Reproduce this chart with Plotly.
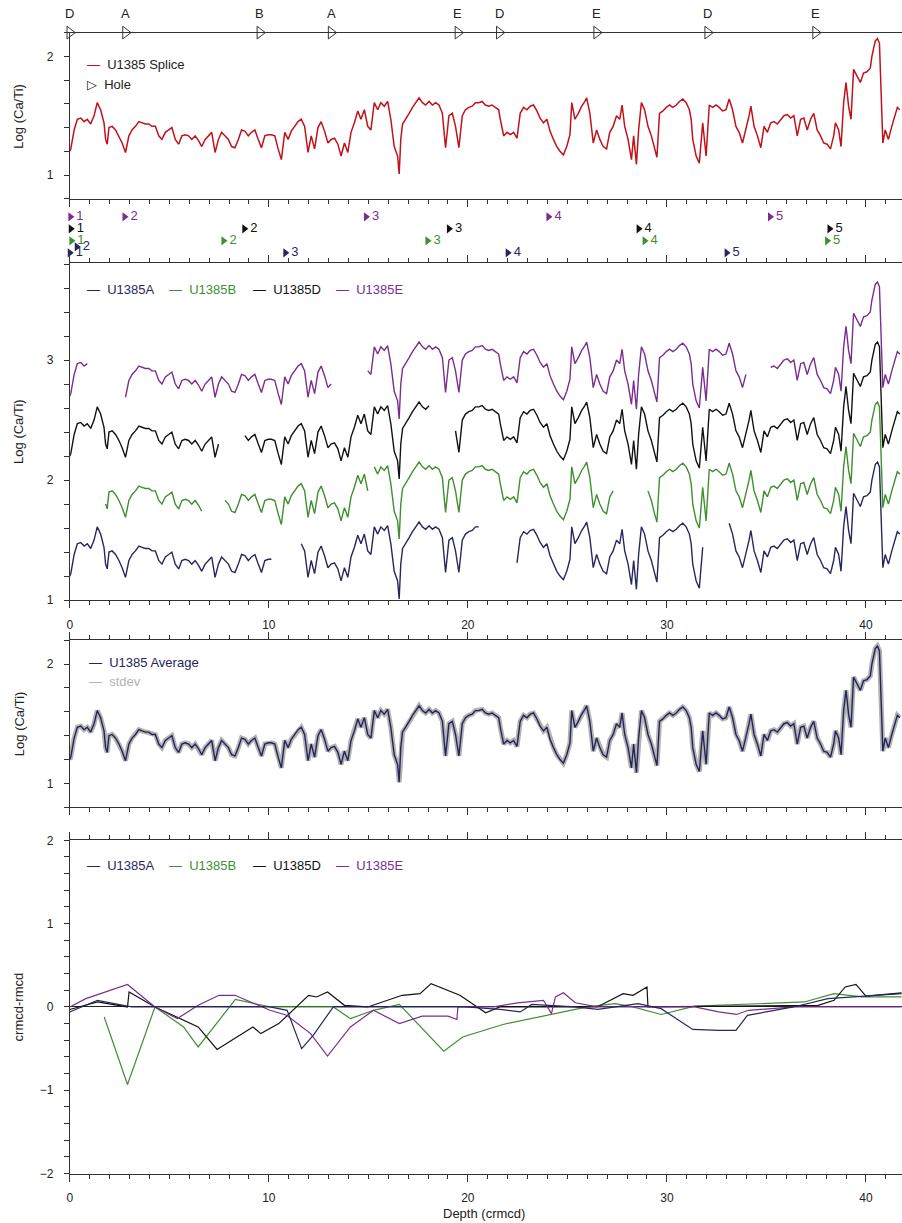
import plotly.graph_objects as go

# ---------------- data ----------------
splice_depth = [0.00,0.05,0.22,0.38,0.55,0.72,0.88,1.05,1.22,1.38,1.55,1.72,1.80,1.88,1.97,2.13,2.30,2.47,2.63,2.80,
 2.97,3.13,3.30,3.47,3.63,3.80,3.97,4.13,4.30,4.47,4.63,4.80,4.97,5.13,5.30,5.47,5.63,5.80,5.97,6.13,
 6.30,6.47,6.63,6.80,6.97,7.13,7.30,7.47,7.63,7.80,7.97,8.13,8.30,8.47,8.63,8.80,8.97,9.13,9.30,9.47,
 9.63,9.80,9.97,10.13,10.30,10.47,10.63,10.80,10.97,11.13,11.30,11.47,11.63,11.80,11.97,12.13,12.30,12.47,12.63,12.80,
 12.97,13.13,13.30,13.47,13.63,13.80,13.97,14.13,14.30,14.47,14.63,14.80,14.97,15.13,15.30,15.47,15.63,15.80,15.97,16.13,
 16.30,16.47,16.55,16.63,16.72,16.88,17.05,17.22,17.38,17.55,17.72,17.88,18.05,18.22,18.38,18.55,18.72,18.88,19.05,19.22,
 19.38,19.55,19.72,19.88,20.05,20.22,20.38,20.55,20.72,20.88,21.05,21.22,21.38,21.55,21.63,21.80,21.97,22.13,22.30,22.47,
 22.63,22.80,22.97,23.13,23.30,23.47,23.63,23.80,23.97,24.13,24.30,24.47,24.63,24.80,24.97,25.13,25.22,25.38,25.55,25.72,
 25.88,25.97,26.13,26.30,26.47,26.63,26.80,26.97,27.13,27.30,27.47,27.63,27.75,27.88,28.05,28.22,28.33,28.47,28.58,28.72,
 28.88,29.05,29.22,29.38,29.50,29.63,29.80,29.97,30.13,30.30,30.47,30.63,30.80,30.97,31.13,31.22,31.30,31.47,31.63,31.80,
 31.97,32.13,32.30,32.47,32.63,32.80,32.97,33.13,33.30,33.47,33.63,33.80,33.97,34.13,34.22,34.38,34.55,34.72,34.88,35.05,
 35.22,35.38,35.55,35.72,35.88,36.05,36.22,36.38,36.55,36.72,36.88,37.05,37.22,37.38,37.55,37.72,37.88,38.05,38.22,38.38,
 38.47,38.63,38.75,38.88,39.00,39.13,39.25,39.38,39.55,39.72,39.88,40.05,40.22,40.30,40.47,40.58,40.68,40.77,40.85,40.97,
 41.13,41.30,41.47,41.58,41.70]
splice_val = [1.20,1.22,1.38,1.47,1.48,1.45,1.47,1.43,1.50,1.61,1.55,1.44,1.30,1.26,1.40,1.41,1.38,1.33,1.27,1.19,
 1.33,1.38,1.41,1.45,1.44,1.43,1.43,1.41,1.41,1.33,1.30,1.36,1.38,1.40,1.30,1.26,1.33,1.34,1.33,1.30,
 1.33,1.29,1.24,1.30,1.33,1.36,1.19,1.30,1.36,1.33,1.30,1.24,1.23,1.30,1.38,1.37,1.33,1.36,1.38,1.30,
 1.23,1.33,1.34,1.34,1.33,1.22,1.13,1.36,1.30,1.37,1.41,1.45,1.47,1.41,1.19,1.33,1.22,1.40,1.45,1.37,
 1.27,1.30,1.31,1.26,1.16,1.27,1.19,1.36,1.44,1.54,1.47,1.55,1.41,1.38,1.61,1.55,1.61,1.58,1.62,1.47,
 1.24,1.16,1.01,1.30,1.43,1.47,1.52,1.57,1.61,1.65,1.61,1.59,1.62,1.59,1.61,1.59,1.52,1.23,1.50,1.52,
 1.41,1.23,1.50,1.55,1.57,1.58,1.61,1.61,1.62,1.59,1.58,1.59,1.57,1.55,1.47,1.33,1.36,1.34,1.36,1.31,
 1.52,1.57,1.55,1.58,1.59,1.54,1.48,1.44,1.47,1.37,1.30,1.24,1.20,1.17,1.24,1.34,1.61,1.47,1.52,1.58,
 1.62,1.65,1.52,1.27,1.38,1.30,1.24,1.22,1.36,1.41,1.50,1.47,1.59,1.41,1.30,1.13,1.33,1.09,1.38,1.61,
 1.55,1.41,1.33,1.22,1.15,1.52,1.54,1.57,1.59,1.57,1.59,1.62,1.64,1.61,1.55,1.47,1.30,1.16,1.10,1.44,
 1.16,1.59,1.57,1.59,1.57,1.54,1.55,1.64,1.55,1.41,1.36,1.27,1.38,1.50,1.58,1.41,1.33,1.23,1.41,1.36,
 1.44,1.45,1.43,1.47,1.50,1.51,1.48,1.50,1.33,1.47,1.48,1.38,1.47,1.52,1.38,1.33,1.27,1.26,1.22,1.33,
 1.44,1.38,1.24,1.61,1.78,1.58,1.47,1.89,1.83,1.78,1.86,1.87,1.90,2.00,2.13,2.15,2.11,1.66,1.27,1.38,
 1.30,1.41,1.52,1.57,1.55]

# hole coverage intervals (crmcd) and display offsets used in the stacked panel
hole_names = ["U1385A", "U1385B", "U1385D", "U1385E"]
hole_intervals = {
    "U1385A": [(0, 10.2), (11.55, 20.68), (22.45, 31.85), (33.05, 41.8)],
    "U1385B": [(1.8, 6.63), (7.8, 15.05), (15.3, 27.33), (28.92, 41.8)],
    "U1385D": [(0, 7.47), (8.8, 18.05), (19.3, 41.8)],
    "U1385E": [(0, 0.9), (2.8, 13.2), (14.88, 34.1), (35.2, 41.8)],
}
hole_offsets = {"U1385A": 0.0, "U1385B": 0.5, "U1385D": 1.0, "U1385E": 1.5}
hole_colors = {"U1385A": "#27275f", "U1385B": "#3f8f2f", "U1385D": "#111111", "U1385E": "#7b2d8f"}

# hole switches along the splice
splice_tie_depth = [0, 2.8, 9.55, 13.13, 19.5, 21.58, 26.47, 32.05, 37.47]
splice_tie_hole = ["D", "A", "B", "A", "E", "D", "E", "D", "E"]

# core tops per hole
core_top_depth = {
    "U1385E": [0.03, 2.75, 14.88, 24.05, 35.18],
    "U1385D": [0.05, 8.77, 19.05, 28.58, 38.17],
    "U1385B": [0.08, 7.72, 17.97, 28.88, 38.05],
    "U1385A": [0.0, 0.35, 10.83, 22.0, 33.0],
}
core_numbers = ["1", "2", "3", "4", "5"]
core_row = {"U1385E": [4, 4, 4, 4, 4], "U1385D": [3, 3, 3, 3, 3],
            "U1385B": [2, 2, 2, 2, 2], "U1385A": [1, 1.5, 1, 1, 1]}

# crmcd - rmcd offsets
off_A_depth = [0, 1.39, 2.69, 3.12, 10.06, 10.92, 11.65, 12.23, 13.24, 19.88, 21.62, 22.63, 23.21, 25.38,
               26.53, 27.83, 28.55, 29.71, 31.3, 32.6, 33.47, 34.05, 36.36, 38.09, 41.79]
off_A_val = [-0.06, 0.08, 0.02, 0.0, 0.0, -0.04, -0.50, -0.34, 0.0, 0.0, -0.03, -0.06, 0.03, 0.0,
             -0.03, 0.02, 0.04, -0.02, -0.27, -0.28, -0.28, -0.10, 0.0, 0.10, 0.16]
off_B_depth = [1.73, 2.90, 4.28, 5.72, 6.45, 8.32, 10.06, 13.24, 14.1, 15.26, 16.56, 18.79, 19.74, 21.76,
               26.0, 27.4, 28.3, 29.71, 31.4, 36.9, 38.4, 39.8, 41.79]
off_B_val = [-0.12, -0.93, 0.0, -0.24, -0.48, 0.09, 0.0, 0.0, -0.14, -0.04, 0.03, -0.53, -0.36, -0.21,
             0.0, 0.04, 0.0, -0.09, 0.01, 0.06, 0.16, 0.12, 0.12]
off_D_depth = [0, 1.39, 2.9, 2.98, 4.28, 6.45, 7.4, 9.2, 9.6, 10.5, 12.0, 12.4, 12.95, 13.8, 14.97, 16.7,
               17.6, 18.15, 19.6, 20.9, 21.6, 26.5, 27.8, 28.3, 29.0, 29.05, 37.6, 38.4, 38.96, 39.5, 40.0, 41.79]
off_D_val = [-0.03, 0.06, 0.0, 0.18, 0.0, -0.24, -0.51, -0.24, -0.32, -0.20, 0.14, 0.12, 0.18, 0.02, 0.0, 0.14,
             0.16, 0.28, 0.14, -0.07, 0.0, 0.0, 0.16, 0.14, 0.24, 0.0, 0.02, 0.08, 0.24, 0.27, 0.13, 0.17]
off_E_depth = [0, 0.81, 2.9, 4.28, 5.4, 6.45, 7.5, 8.3, 10.06, 10.9, 12.1, 12.95, 14.1, 15.26, 16.56, 17.7,
               19.0, 19.45, 19.5, 21.3, 22.5, 23.8, 24.2, 24.4, 24.8, 25.4, 26.5, 31.4, 32.6, 33.5, 34.1, 36.4, 41.79]
off_E_val = [0.0, 0.10, 0.27, 0.0, -0.14, 0.02, 0.14, 0.14, -0.04, -0.10, -0.32, -0.59, -0.24, -0.04, -0.20, -0.11,
             -0.11, -0.15, 0.0, 0.0, 0.05, 0.08, -0.08, 0.12, 0.17, 0.05, 0.0, 0.0, -0.06, -0.09, -0.04, 0.0, 0.0]

# ---------------- layout helpers ----------------
W, H = 902, 1223
# observed page mapping: shown_y = SY * fig_y + BY ; shown_x = fig_x + BX
SY, BY, BX = 0.9877, 7.4, 2.0
X0 = 69                    # shown pixel of depth 0
PX_PER_M = 19.97
XMAX = (W + BX - X0) / PX_PER_M
FONT = "Liberation Sans, Arial, Helvetica, sans-serif"
AX = "#333333"


def py(p):
    return 1 - ((p - BY) / SY) / H


def px(p):
    return (p - BX) / W


def hole_trace(name):
    xs, ys = [], []
    off = hole_offsets[name]
    for (a, b) in hole_intervals[name]:
        for d, v in zip(splice_depth, splice_val):
            if a <= d <= b:
                xs.append(d)
                ys.append(v + off)
        xs.append(None)
        ys.append(None)
    return xs, ys


fig = go.Figure()

# Panel 1: splice
fig.add_trace(go.Scatter(x=splice_depth, y=splice_val, mode="lines",
                         line=dict(color="#c1121c", width=1.5), xaxis="x", yaxis="y", showlegend=False))
fig.add_trace(go.Scatter(x=splice_tie_depth, y=[2.2] * len(splice_tie_depth), mode="markers",
                         marker=dict(symbol="triangle-right-open", size=11, color="#333",
                                     line=dict(width=1, color="#333")),
                         cliponaxis=False, xaxis="x", yaxis="y", showlegend=False))

# Panel 2: core tops
for name in ["U1385E", "U1385D", "U1385B", "U1385A"]:
    fig.add_trace(go.Scatter(x=core_top_depth[name], y=core_row[name], mode="markers+text",
                             text=core_numbers, textposition="middle right",
                             textfont=dict(size=13, color=hole_colors[name], family=FONT),
                             marker=dict(symbol="triangle-right", size=8, color=hole_colors[name]),
                             cliponaxis=False, xaxis="x2", yaxis="y2", showlegend=False))

# Panel 3: holes
for name in hole_names:
    xs, ys = hole_trace(name)
    fig.add_trace(go.Scatter(x=xs, y=ys, mode="lines", connectgaps=False,
                             line=dict(color=hole_colors[name], width=1.4),
                             xaxis="x3", yaxis="y3", showlegend=False))

# Panel 4: average with stdev
fig.add_trace(go.Scatter(x=splice_depth, y=splice_val, mode="lines",
                         line=dict(color="#b3b3b3", width=5), xaxis="x4", yaxis="y4", showlegend=False))
fig.add_trace(go.Scatter(x=splice_depth, y=splice_val, mode="lines",
                         line=dict(color="#24245c", width=1.4), xaxis="x4", yaxis="y4", showlegend=False))

# Panel 5: offsets
for dx, dy, name in [(off_B_depth, off_B_val, "U1385B"), (off_D_depth, off_D_val, "U1385D"),
                     (off_E_depth, off_E_val, "U1385E"), (off_A_depth, off_A_val, "U1385A")]:
    fig.add_trace(go.Scatter(x=dx, y=dy, mode="lines", line=dict(color=hole_colors[name], width=1.2),
                             xaxis="x5", yaxis="y5", showlegend=False))

xdom = [px(X0), 1]


def xax(anchor, labels=False, mirror="ticks", show=True):
    return dict(domain=xdom, range=[0, XMAX], anchor=anchor, showline=show, linecolor=AX, linewidth=1,
                ticks="outside" if show else "", ticklen=7, tickcolor=AX, dtick=10, tick0=0,
                showticklabels=labels, tickfont=dict(size=12, color="#222", family=FONT),
                ticklabelstandoff=6,
                mirror=mirror, showgrid=False, zeroline=False, visible=show,
                minor=dict(dtick=1, ticklen=4, ticks="outside" if show else "", tickcolor=AX, showgrid=False))


def yax(anchor, top_px, bottom_px, rng, dtick, minor, show=True):
    return dict(domain=[py(bottom_px), py(top_px)], range=rng, anchor=anchor, showline=show, linecolor=AX,
                linewidth=1, ticks="outside" if show else "", ticklen=5, tickcolor=AX, dtick=dtick, tick0=0,
                showticklabels=show, tickfont=dict(size=12, color="#222", family=FONT), showgrid=False,
                ticklabelstandoff=8,
                zeroline=False, visible=show,
                minor=dict(dtick=minor, ticklen=5, ticks="outside" if show else "", tickcolor=AX, showgrid=False))


layout = dict(
    width=W, height=H, margin=dict(l=0, r=0, t=0, b=0), paper_bgcolor="white", plot_bgcolor="white",
    font=dict(family=FONT, size=12, color="#222"),
    xaxis=xax("y", labels=False, mirror=True),
    yaxis=yax("x", 33, 199, [0.8, 2.2], 1, 0.2),
    xaxis2=xax("y2", show=False, mirror=False),
    yaxis2=yax("x2", 200, 263, [0.167, 5.417], 1, 1, show=False),
    xaxis3=xax("y3", labels=True),
    yaxis3=yax("x3", 263, 600, [1, 3.81], 1, 0.2),
    xaxis4=xax("y4", labels=False),
    yaxis4=yax("x4", 640, 807, [0.8, 2.2], 1, 0.2),
    xaxis5=xax("y5", labels=True),
    yaxis5=yax("x5", 840, 1173, [-2, 2], 1, 0.2),
)
layout["yaxis5"]["zeroline"] = True
layout["yaxis5"]["zerolinecolor"] = "#222"
layout["yaxis5"]["zerolinewidth"] = 1
fig.update_layout(**layout)

ann = []


def text_ann(x, y, text, size=13, color="#222", angle=0, xanchor="left"):
    ann.append(dict(x=px(x), y=py(y), xref="paper", yref="paper", text=text, showarrow=False,
                    xanchor=xanchor, yanchor="middle", textangle=angle,
                    font=dict(size=size, color=color, family=FONT)))


def swatch(color):
    return "<span style='color:%s'>—</span>" % color


# hole letters above the splice tie markers
for d, h in zip(splice_tie_depth, splice_tie_hole):
    ann.append(dict(x=d, xref="x", y=py(14), yref="paper", text=h, showarrow=False,
                    xanchor="center", yanchor="middle", font=dict(size=13, color="#222", family=FONT)))

# axis titles
text_ann(18, 116, "Log (Ca/Ti)", angle=-90, xanchor="center")
text_ann(18, 431, "Log (Ca/Ti)", angle=-90, xanchor="center")
text_ann(18, 723, "Log (Ca/Ti)", angle=-90, xanchor="center")
text_ann(18, 1006, "crmcd-rmcd", angle=-90, xanchor="center")
text_ann(485, 1213, "Depth (crmcd)", xanchor="center")

# legends
text_ann(84, 65, swatch("#c1121c") + "  U1385 Splice")
text_ann(84, 85, "▷  Hole")
for xpos, name in zip([84, 167, 251, 334], hole_names):
    c = hole_colors[name]
    text_ann(xpos, 290, swatch(c) + "  <span style='color:%s'>%s</span>" % (c, name))
    text_ann(xpos, 865, swatch(c) + "  <span style='color:%s'>%s</span>" % (c, name))
text_ann(86, 662, swatch("#24245c") + "  <span style='color:#24245c'>U1385 Average</span>")
text_ann(86, 681, swatch("#b3b3b3") + "  <span style='color:#b3b3b3'>stdev</span>")

fig.update_layout(annotations=ann)
fig.write_html("out.html")
